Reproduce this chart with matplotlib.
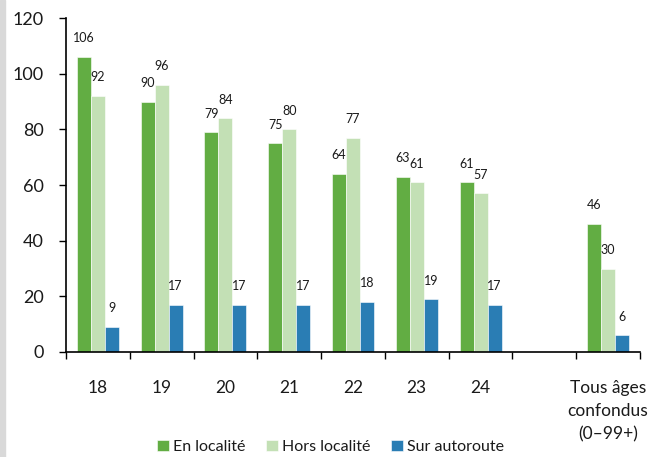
import numpy as np
import matplotlib.pyplot as plt
from matplotlib.patches import Rectangle

plt.rcParams['font.family'] = ['Lato', 'DejaVu Sans']

# catégories d'âge (un emplacement vide avant le total)
categories = ["18", "19", "20", "21", "22", "23", "24", "", "Tous âges\nconfondus\n(0–99+)"]
en_localite = [106, 90, 79, 75, 64, 63, 61, None, 46]
hors_localite = [92, 96, 84, 80, 77, 61, 57, None, 30]
sur_autoroute = [9, 17, 17, 17, 18, 19, 17, None, 6]

series = [
    ("En localité", en_localite, "#62ad43"),
    ("Hors localité", hors_localite, "#c3e0b5"),
    ("Sur autoroute", sur_autoroute, "#2a7db4"),
]

fig = plt.figure(figsize=(6.52, 4.57), dpi=100)
fig.patches.append(Rectangle((0, 0), 5 / 652, 1, transform=fig.transFigure,
                             color="#d9d9d9", zorder=0))
ax = fig.add_axes([66 / 652, 1 - 352 / 457, (640 - 66) / 652, (352 - 18) / 457])

x = np.arange(len(categories))
w = 0.22
for i, (name, vals, col) in enumerate(series):
    xs = [xi + (i - 1) * w for xi, v in zip(x, vals) if v is not None]
    vs = [v for v in vals if v is not None]
    ax.bar(xs, vs, width=w, color=col, edgecolor="white", linewidth=0.4, label=name)
    for xi, v in zip(xs, vs):
        ax.text(xi, v + 4.5, str(v), ha="center", va="bottom", fontsize=9, color="#1a1a1a")

ax.set_xlim(-0.5, len(categories) - 0.5)
ax.set_ylim(0, 120)
ax.set_yticks(range(0, 121, 20))
ax.tick_params(axis="y", labelsize=13, length=5, width=1, direction="out", pad=11,
               labelcolor="#1a1a1a")

# graduations entre les groupes, étiquettes au centre
ax.set_xticks(np.arange(len(categories) + 1) - 0.5)
ax.set_xticklabels([])
ax.set_xticks(x, minor=True)
ax.set_xticklabels(categories, minor=True, fontsize=12.5, linespacing=1.55, color="#1a1a1a")
ax.tick_params(axis="x", which="major", length=5, width=1, direction="out")
ax.tick_params(axis="x", which="minor", length=0, pad=20)
for lbl in ax.get_xticklabels(minor=True):
    lbl.set_va("top")

for s in ("top", "right"):
    ax.spines[s].set_visible(False)
for s in ("left", "bottom"):
    ax.spines[s].set_linewidth(1.2)

fig.legend(loc="lower center", bbox_to_anchor=(0.507, -0.025), ncol=3, frameon=False,
           fontsize=11.5, handlelength=0.75, handleheight=0.75, handletextpad=0.25,
           columnspacing=1.3, labelcolor="#1a1a1a")

fig.savefig("out.png", dpi=100)
